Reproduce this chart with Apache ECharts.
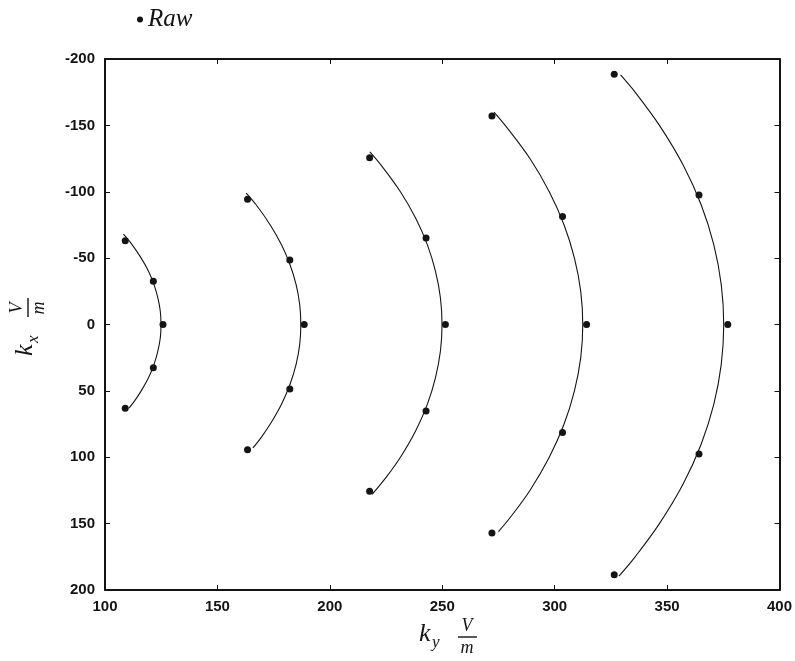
<!DOCTYPE html>
<html>
<head>
<meta charset="utf-8">
<script src="https://cdn.jsdelivr.net/npm/echarts@6/dist/echarts.min.js"></script>
<style>
  html, body { margin: 0; padding: 0; background: #fff; }
  #chart { width: 795px; height: 661px; }
</style>
</head>
<body>
<div id="chart"></div>
<script>
// Axis ranges and ticks
const kyTicks = [100, 150, 200, 250, 300, 350, 400];
const kxTicks = [-200, -150, -100, -50, 0, 50, 100, 150, 200];

// Measured points: ky (horizontal) and kx (vertical), one ring per array pair
const raw1Ky = [109.0, 121.5, 125.8, 121.5, 109.0];
const raw1Kx = [-63.0, -32.5, 0, 32.5, 63.0];
const raw2Ky = [163.4, 182.2, 188.6, 182.2, 163.4];
const raw2Kx = [-94.3, -48.6, 0, 48.6, 94.3];
const raw3Ky = [217.7, 242.8, 251.4, 242.8, 217.7];
const raw3Kx = [-125.7, -65.1, 0, 65.1, 125.7];
const raw4Ky = [272.1, 303.5, 314.2, 303.5, 272.1];
const raw4Kx = [-157.1, -81.3, 0, 81.3, 157.1];
const raw5Ky = [326.5, 364.2, 377.0, 364.2, 326.5];
const raw5Kx = [-188.5, -97.6, 0, 97.6, 188.5];

// Fitted curves through each ring
const fit1Ky = [108.2, 112.1, 116.1, 119.4, 121.8, 123.5, 124.6, 124.9, 124.6, 123.5, 121.8, 119.4, 116.1, 113.4, 110.7];
const fit1Kx = [-68, -60, -50, -40, -30, -20, -10, 0, 10, 20, 30, 40, 50, 57, 63];
const fit2Ky = [162.8, 167.3, 173.5, 178.5, 182.3, 185.0, 186.6, 187.1, 186.6, 185.0, 182.3, 178.5, 173.5, 169.5, 165.8];
const fit2Kx = [-99, -90, -75, -60, -45, -30, -15, 0, 15, 30, 45, 60, 75, 85, 93];
const fit3Ky = [217.8, 222.8, 231.4, 238.2, 243.4, 247.0, 249.2, 249.9, 249.2, 247.0, 243.4, 238.2, 231.4, 225.1, 218.8];
const fit3Kx = [-130, -120, -100, -80, -60, -40, -20, 0, 20, 40, 60, 80, 100, 115, 128];
const fit4Ky = [273.0, 278.0, 289.0, 297.6, 304.2, 308.8, 311.6, 312.5, 311.6, 308.8, 304.2, 297.6, 289.0, 280.4, 275.0];
const fit4Kx = [-160, -150, -125, -100, -75, -50, -25, 0, 25, 50, 75, 100, 125, 145, 156];
const fit5Ky = [329.3, 335.8, 346.6, 357.2, 365.2, 370.8, 374.1, 375.2, 374.1, 370.8, 365.2, 357.2, 346.6, 335.8, 328.6];
const fit5Kx = [-188, -175, -150, -120, -90, -60, -30, 0, 30, 60, 90, 120, 150, 175, 189.5];

const pair = (xs, ys) => xs.map((x, i) => [x, ys[i]]);

const rawPoints = [].concat(
  pair(raw1Ky, raw1Kx), pair(raw2Ky, raw2Kx), pair(raw3Ky, raw3Kx),
  pair(raw4Ky, raw4Kx), pair(raw5Ky, raw5Kx)
);
const fits = [
  pair(fit1Ky, fit1Kx), pair(fit2Ky, fit2Kx), pair(fit3Ky, fit3Kx),
  pair(fit4Ky, fit4Kx), pair(fit5Ky, fit5Kx)
];

const INK = '#141414';
const labelFont = { fontFamily: 'Liberation Sans', fontWeight: 'bold', fontSize: 15, color: INK };
const mathFont = 'Liberation Serif';

// k with subscript, followed by the V/m fraction; laid out around (x, y)
function axisTitle(x, y, rot, sub) {
  return {
    type: 'group', x: x, y: y, rotation: rot, silent: true,
    children: [
      { type: 'text', x: -30, y: -3, style: { text: 'k', font: 'italic 26px ' + mathFont, fill: INK, textAlign: 'left', textVerticalAlign: 'middle' } },
      { type: 'text', x: -17, y: 6, style: { text: sub, font: 'italic 17px ' + mathFont, fill: INK, textAlign: 'left', textVerticalAlign: 'middle' } },
      { type: 'text', x: 18, y: -11, style: { text: 'V', font: 'italic 18px ' + mathFont, fill: INK, textAlign: 'center', textVerticalAlign: 'middle' } },
      { type: 'line', shape: { x1: 9, y1: 0, x2: 28, y2: 0 }, style: { stroke: INK, lineWidth: 1.4 } },
      { type: 'text', x: 18, y: 11, style: { text: 'm', font: 'italic 18px ' + mathFont, fill: INK, textAlign: 'center', textVerticalAlign: 'middle' } }
    ]
  };
}

const chart = echarts.init(document.getElementById('chart'), null, { renderer: 'canvas' });

const baseX = {
  type: 'value', min: kyTicks[0], max: kyTicks[kyTicks.length - 1], interval: 50,
  splitLine: { show: false },
  axisLine: { show: true, onZero: false, lineStyle: { color: INK, width: 2 } },
  axisTick: { show: true, inside: true, length: 5, lineStyle: { color: INK, width: 1 } }
};
const baseY = {
  type: 'value', min: kxTicks[0], max: kxTicks[kxTicks.length - 1], interval: 50, inverse: true,
  splitLine: { show: false },
  axisLine: { show: true, onZero: false, lineStyle: { color: INK, width: 2 } },
  axisTick: { show: true, inside: true, length: 5, lineStyle: { color: INK, width: 1 } }
};

chart.setOption({
  animation: false,
  backgroundColor: '#fff',
  grid: { left: 105, right: 15, top: 59, bottom: 71, containLabel: false },
  legend: {
    left: 132, top: 2,
    data: ['Raw'],
    icon: 'circle', itemWidth: 6, itemHeight: 6, itemGap: 4,
    textStyle: { fontFamily: mathFont, fontStyle: 'italic', fontSize: 25, color: INK, padding: [0, 0, 0, 0] }
  },
  xAxis: [
    Object.assign({}, baseX, { position: 'bottom', axisLabel: Object.assign({ margin: 9 }, labelFont) }),
    Object.assign({}, baseX, { position: 'top', axisLabel: { show: false } })
  ],
  yAxis: [
    Object.assign({}, baseY, { position: 'left', axisLabel: Object.assign({ margin: 10 }, labelFont) }),
    Object.assign({}, baseY, { position: 'right', axisLabel: { show: false } })
  ],
  series: fits.map((d, i) => ({
    type: 'line', name: 'fit' + (i + 1), data: d, smooth: 0.35,
    showSymbol: false, silent: true, z: 2,
    lineStyle: { color: INK, width: 1.1 }
  })).concat([{
    type: 'scatter', name: 'Raw', data: rawPoints,
    symbol: 'circle', symbolSize: 7, z: 3,
    itemStyle: { color: INK, opacity: 1 }
  }]),
  graphic: [
    axisTitle(449, 637, 0, 'y'),
    axisTitle(28, 326, Math.PI / 2, 'x')
  ]
});
</script>
</body>
</html>
